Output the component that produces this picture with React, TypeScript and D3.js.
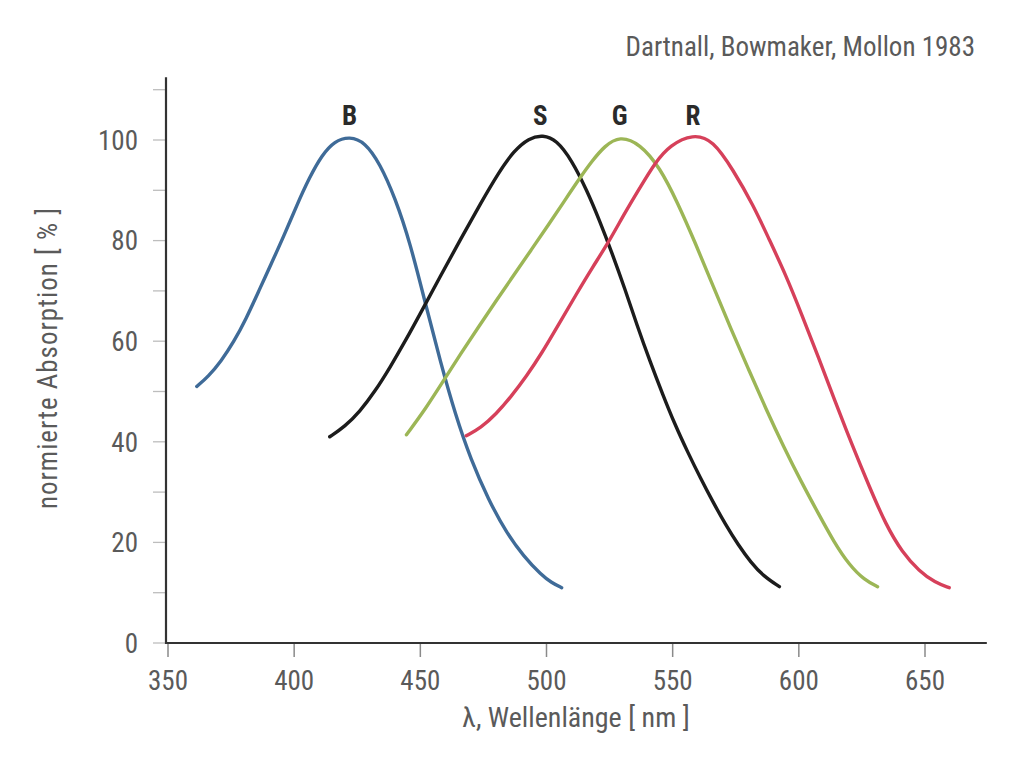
import React, { useEffect, useRef } from 'react';
import * as d3 from 'd3';

// wavelength [nm] and normierte Absorption [%]
const blueWl = [361.4, 366, 371, 376, 381, 386, 391, 396, 401, 406, 411, 416, 422, 428, 434, 440, 446, 452, 458, 464, 470, 477, 484, 491, 498, 502, 506];
const blueAbs = [51, 53, 56, 59.8, 64.5, 70, 75.5, 81, 87, 92.5, 97, 99.8, 100.7, 99.6, 95.3, 88.5, 79.5, 67.5, 55.8, 45.2, 36.5, 28.5, 22, 17.2, 13.5, 12, 11];

const blackWl = [414.1, 420, 426, 432, 438, 444, 450, 458, 466, 474, 481, 487, 493, 498.6, 504, 510, 516, 521, 526, 531, 536, 541, 546, 551, 556, 561, 566, 571, 576, 581, 586, 592.3];
const blackAbs = [41, 43, 46, 50, 54.8, 60, 65.5, 73, 80.3, 87.5, 93.5, 97.8, 100.4, 101, 100, 96, 90, 84, 77.5, 70.5, 63, 56, 49.5, 43.3, 37.9, 32.8, 28, 23.5, 19.5, 16, 13.3, 11.2];

const greenWl = [444.5, 452, 459, 466, 473, 480, 487, 494, 501, 507, 513, 518, 523, 529, 537, 545, 552, 559, 566, 573, 580, 587, 594, 601, 608, 614, 620, 626, 631.2];
const greenAbs = [41.4, 46.5, 52, 57.5, 62.8, 68, 73.1, 78.2, 83.3, 87.8, 92.3, 95.8, 98.8, 100.8, 99.3, 94.5, 87.5, 79.5, 71, 62.5, 54.5, 46.5, 39, 32, 25.5, 20, 15.5, 12.5, 11.2];

const redWl = [468.2, 474, 480, 486, 492, 498, 505, 512, 518, 525, 531, 537, 543, 549, 558, 566, 574, 582, 588, 595, 601, 608, 614, 621, 628, 634.5, 641, 647.7, 654, 659.6];
const redAbs = [41.2, 42.8, 45.5, 49, 53, 57.5, 63.5, 69.5, 74.5, 80, 85.5, 90.5, 95.5, 99, 101.2, 100, 94, 87, 80.5, 73, 65.5, 56.5, 48.5, 39.5, 31, 23.5, 18, 14.3, 12, 11];

const curveNames = ['B', 'S', 'G', 'R'];
const curveColors = ['#3f6b98', '#1c1c1c', '#9cb656', '#d6405a'];
const peakWl = [422, 497.5, 529, 558];

const xTicks = [350, 400, 450, 500, 550, 600, 650];
const yTicks = [0, 20, 40, 60, 80, 100];
const yMinorTicks = [0, 10, 20, 30, 40, 50, 60, 70, 80, 90, 100, 110];

const FONT = "'Liberation Sans Narrow', 'Roboto Condensed', 'Open Sans', sans-serif";
const TEXT_COLOR = '#5a5a5a';

const App = () => {
  const ref = useRef(null);

  useEffect(() => {
    const svg = d3.select(ref.current);
    svg.selectAll('*').remove();

    const x = d3.scaleLinear().domain([350, 650]).range([168, 925]);
    const y = d3.scaleLinear().domain([0, 100]).range([643, 140]);

    // y ticks every 10, outside the axis
    svg.append('g')
      .selectAll('line')
      .data(yMinorTicks)
      .join('line')
      .attr('x1', 153).attr('x2', 166)
      .attr('y1', d => y(d)).attr('y2', d => y(d))
      .attr('stroke', '#bdbdbd')
      .attr('stroke-width', 1.3);

    // x ticks
    svg.append('g')
      .selectAll('line')
      .data(xTicks)
      .join('line')
      .attr('x1', d => x(d)).attr('x2', d => x(d))
      .attr('y1', 643).attr('y2', 657)
      .attr('stroke', '#8a8a8a')
      .attr('stroke-width', 1.5);

    // axis lines
    svg.append('line')
      .attr('x1', 166).attr('x2', 166)
      .attr('y1', y(112.5)).attr('y2', 644)
      .attr('stroke', '#333').attr('stroke-width', 2.2);
    svg.append('line')
      .attr('x1', 165).attr('x2', x(674.5))
      .attr('y1', 643).attr('y2', 643)
      .attr('stroke', '#333').attr('stroke-width', 2.2);

    // tick labels
    svg.append('g')
      .selectAll('text')
      .data(yTicks)
      .join('text')
      .attr('x', 138)
      .attr('y', d => y(d))
      .attr('dy', '0.36em')
      .attr('text-anchor', 'end')
      .attr('font-family', FONT)
      .attr('font-size', 27)
      .attr('fill', TEXT_COLOR)
      .text(d => d);

    svg.append('g')
      .selectAll('text')
      .data(xTicks)
      .join('text')
      .attr('x', d => x(d))
      .attr('y', 690)
      .attr('text-anchor', 'middle')
      .attr('font-family', FONT)
      .attr('font-size', 27)
      .attr('fill', TEXT_COLOR)
      .text(d => d);

    // absorption curves
    const series = [
      [blueWl, blueAbs],
      [blackWl, blackAbs],
      [greenWl, greenAbs],
      [redWl, redAbs],
    ];
    const line = d3.line<[number, number]>()
      .x(d => x(d[0]))
      .y(d => y(d[1]))
      .curve(d3.curveBasis);

    series.forEach(([wl, ab], i) => {
      const pts = wl.map((w, j) => [w, ab[j]] as [number, number]);
      svg.append('path')
        .attr('d', line(pts))
        .attr('fill', 'none')
        .attr('stroke', curveColors[i])
        .attr('stroke-width', 3.4)
        .attr('stroke-linecap', 'round');
    });

    // curve labels
    svg.append('g')
      .selectAll('text')
      .data(curveNames)
      .join('text')
      .attr('x', (d, i) => x(peakWl[i]))
      .attr('y', 125)
      .attr('text-anchor', 'middle')
      .attr('font-family', FONT)
      .attr('font-weight', 'bold')
      .attr('font-size', 27)
      .attr('fill', '#2a2a2a')
      .text(d => d);

    // source note
    svg.append('text')
      .attr('x', 975)
      .attr('y', 56)
      .attr('text-anchor', 'end')
      .attr('font-family', FONT)
      .attr('font-size', 27)
      .attr('fill', TEXT_COLOR)
      .text('Dartnall, Bowmaker, Mollon 1983');

    // axis titles
    svg.append('text')
      .attr('x', 576)
      .attr('y', 727)
      .attr('text-anchor', 'middle')
      .attr('font-family', FONT)
      .attr('font-size', 28)
      .attr('fill', TEXT_COLOR)
      .text('λ, Wellenlänge [ nm ]');

    svg.append('text')
      .attr('transform', 'translate(57,358) rotate(-90)')
      .attr('text-anchor', 'middle')
      .attr('font-family', FONT)
      .attr('font-size', 27)
      .attr('letter-spacing', 1)
      .attr('fill', TEXT_COLOR)
      .text('normierte Absorption [ % ]');
  }, []);

  return (
    <svg
      ref={ref}
      width={1023}
      height={759}
      style={{ position: 'absolute', left: 0, top: 0, background: '#fff' }}
    />
  );
};

export default App;
